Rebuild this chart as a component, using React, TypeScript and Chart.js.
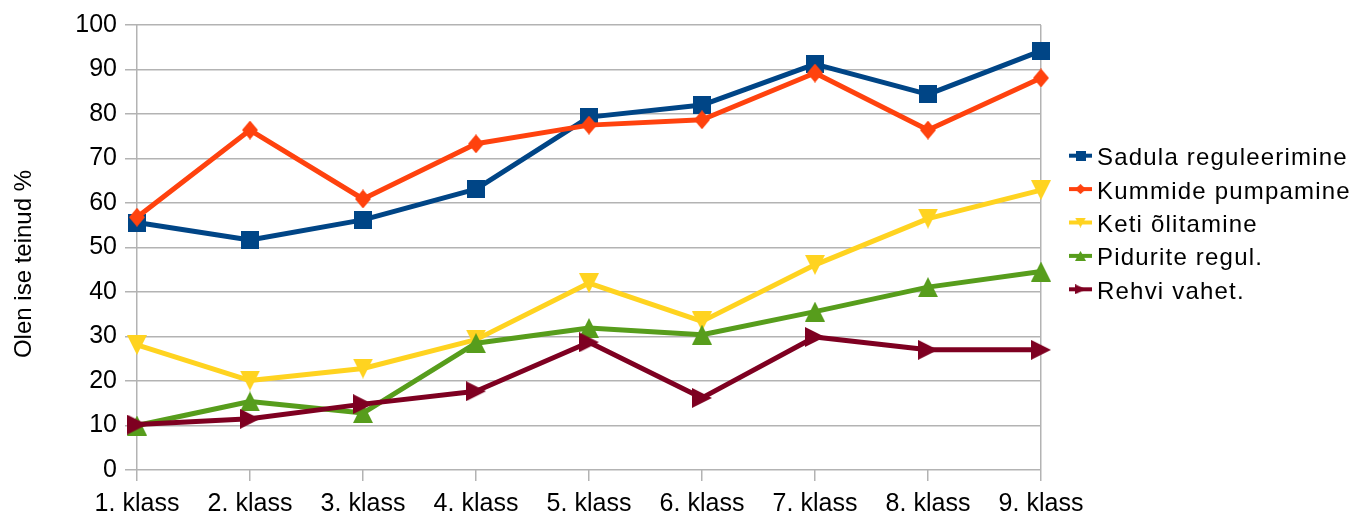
import React, { useEffect, useRef } from "react";
import { Chart, registerables } from "chart.js";

Chart.register(...registerables);

const categories = ["1. klass", "2. klass", "3. klass", "4. klass", "5. klass", "6. klass", "7. klass", "8. klass", "9. klass"];
const seriesNames = ["Sadula reguleerimine", "Kummide pumpamine", "Keti õlitamine", "Pidurite regul.", "Rehvi vahet."];
const sadula = [55.6, 51.7, 56.2, 63.1, 79.3, 82.0, 91.2, 84.4, 94.2];
const kummide = [56.8, 76.4, 60.9, 73.3, 77.5, 78.7, 89.2, 76.4, 88.1];
const keti = [28.1, 20.1, 22.8, 29.3, 42.0, 33.4, 46.1, 56.5, 62.9];
const pidurite = [10.0, 15.4, 12.8, 28.5, 31.9, 30.4, 35.6, 41.1, 44.6];
const rehvi = [10.2, 11.5, 14.8, 17.7, 28.7, 16.2, 29.9, 27.0, 27.0];
const yTitle = "Olen ise teinud %";

const colors = ["#004586", "#ff420e", "#ffd320", "#579d1c", "#7e0021"];
const shapes = ["square", "diamond", "down", "up", "right"];
const markerSizes: [number, number][] = [[18, 18], [16, 19], [20, 20], [20, 20], [20, 20]];

function makeMarker(shape: string, color: string, w: number, h: number): HTMLCanvasElement {
  const c = document.createElement("canvas");
  c.width = w;
  c.height = h;
  const ctx = c.getContext("2d")!;
  ctx.fillStyle = color;
  ctx.beginPath();
  if (shape === "square") {
    ctx.rect(0, 0, w, h);
  } else if (shape === "diamond") {
    ctx.moveTo(w / 2, 0);
    ctx.lineTo(w, h / 2);
    ctx.lineTo(w / 2, h);
    ctx.lineTo(0, h / 2);
  } else if (shape === "down") {
    ctx.moveTo(0, 0);
    ctx.lineTo(w, 0);
    ctx.lineTo(w / 2, h);
  } else if (shape === "up") {
    ctx.moveTo(w / 2, 0);
    ctx.lineTo(w, h);
    ctx.lineTo(0, h);
  } else {
    ctx.moveTo(0, 0);
    ctx.lineTo(w, h / 2);
    ctx.lineTo(0, h);
  }
  ctx.closePath();
  ctx.fill();
  return c;
}

export default function App() {
  const ref = useRef<HTMLCanvasElement | null>(null);

  useEffect(() => {
    if (!ref.current) return;
    const data = [sadula, kummide, keti, pidurite, rehvi];
    const markers = shapes.map((s, i) => makeMarker(s, colors[i], markerSizes[i][0], markerSizes[i][1]));
    const legendMarkers = shapes.map((s, i) => makeMarker(s, colors[i], s === "square" ? 10 : 11, 10));
    const grid = "#b3b3b3";
    const font = "Liberation Sans";

    const decor = {
      id: "decor",
      afterDraw(chart: any) {
        const ctx = chart.ctx as CanvasRenderingContext2D;
        ctx.save();
        // y axis title
        ctx.fillStyle = "#000";
        ctx.font = `24px "${font}"`;
        ctx.textAlign = "center";
        ctx.textBaseline = "alphabetic";
        ctx.translate(31, 264);
        ctx.rotate(-Math.PI / 2);
        ctx.fillText(yTitle, 0, 0);
        ctx.restore();

        // legend
        ctx.save();
        for (let i = 0; i < seriesNames.length; i++) {
          const y = 155.7 + i * 33.4;
          ctx.strokeStyle = colors[i];
          ctx.lineWidth = 4;
          ctx.beginPath();
          ctx.moveTo(1069, y);
          ctx.lineTo(1092, y);
          ctx.stroke();
          const m = legendMarkers[i];
          ctx.drawImage(m, 1080.5 - m.width / 2, y - m.height / 2);
          ctx.fillStyle = "#000";
          ctx.font = `24px "${font}"`;
          (ctx as any).letterSpacing = "1.2px";
          ctx.textAlign = "left";
          ctx.textBaseline = "alphabetic";
          ctx.fillText(seriesNames[i], 1097, y + 9.5);
        }
        ctx.restore();
      },
    };

    const chart = new Chart(ref.current, {
      type: "line",
      data: {
        labels: categories,
        datasets: data.map((d, i) => ({
          label: seriesNames[i],
          data: d,
          borderColor: colors[i],
          backgroundColor: colors[i],
          borderWidth: 5,
          borderJoinStyle: "round" as const,
          pointStyle: markers[i] as any,
          pointRadius: 10,
          pointHoverRadius: 10,
          tension: 0,
          fill: false,
          clip: false as any,
          order: 5 - i,
        })),
      },
      options: {
        responsive: false,
        maintainAspectRatio: false,
        animation: false,
        events: [],
        layout: { padding: { top: 25, right: 318, left: 0, bottom: 0 } },
        plugins: {
          legend: { display: false },
          tooltip: { enabled: false },
          title: { display: false },
        },
        scales: {
          x: {
            type: "category",
            offset: false,
            border: { display: false },
            grid: {
              color: (c: any) => (c.index === 0 || c.index === categories.length - 1 ? grid : "rgba(0,0,0,0)"),
              tickColor: grid,
              lineWidth: 1.5,
              tickLength: 11,
              drawTicks: true,
            },
            ticks: {
              color: "#000",
              font: { family: font, size: 25 },
              padding: 8,
              maxRotation: 0,
              autoSkip: false,
            },
            afterFit: (s: any) => {
              s.height = 47;
            },
          },
          y: {
            min: 0,
            max: 100,
            border: { display: false },
            grid: {
              color: grid,
              lineWidth: 1.5,
              tickLength: 12,
            },
            ticks: {
              stepSize: 10,
              color: "#000",
              font: { family: font, size: 25 },
              padding: 8,
            },
            afterFit: (s: any) => {
              s.width = 137;
            },
          },
        },
      },
      plugins: [decor],
    });
    return () => chart.destroy();
  }, []);

  return (
    <div style={{ position: "absolute", left: 0, top: 0, width: 1359, height: 517, background: "#fff" }}>
      <canvas ref={ref} width={1359} height={517} style={{ display: "block" }} />
    </div>
  );
}
